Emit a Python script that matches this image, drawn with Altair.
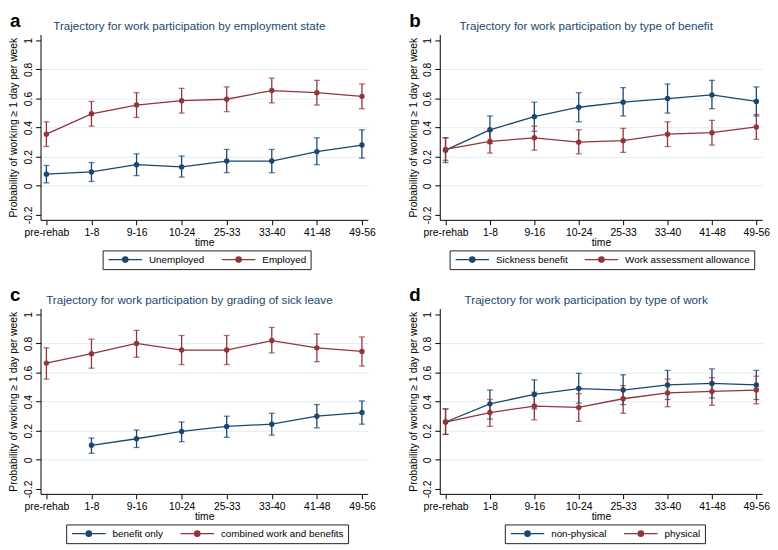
import altair as alt
import pandas as pd

FONT = "Liberation Sans"
BLUE = "#1a476f"
RED = "#90353b"

times = ["pre-rehab", "1-8", "9-16", "10-24", "25-33", "33-40", "41-48", "49-56"]
y_ticks = [-0.2, 0, 0.2, 0.4, 0.6, 0.8, 1]

# Panel a: employment state
a_title = "Trajectory for work participation by employment state"
a_groups = ["Unemployed", "Employed"]
a_unemp_est = [0.08, 0.095, 0.145, 0.13, 0.17, 0.17, 0.235, 0.28]
a_unemp_lo = [0.02, 0.03, 0.07, 0.06, 0.09, 0.09, 0.145, 0.19]
a_unemp_hi = [0.14, 0.16, 0.22, 0.205, 0.25, 0.25, 0.33, 0.385]
a_emp_est = [0.355, 0.495, 0.555, 0.585, 0.595, 0.655, 0.64, 0.615]
a_emp_lo = [0.27, 0.41, 0.47, 0.50, 0.51, 0.57, 0.555, 0.53]
a_emp_hi = [0.44, 0.58, 0.64, 0.67, 0.68, 0.74, 0.725, 0.70]

# Panel b: type of benefit
b_title = "Trajectory for work participation by type of benefit"
b_groups = ["Sickness benefit", "Work assessment allowance"]
b_sick_est = [0.245, 0.385, 0.475, 0.54, 0.575, 0.60, 0.625, 0.58]
b_sick_lo = [0.16, 0.29, 0.375, 0.44, 0.48, 0.50, 0.53, 0.48]
b_sick_hi = [0.33, 0.48, 0.575, 0.64, 0.675, 0.70, 0.725, 0.68]
b_waa_est = [0.25, 0.305, 0.33, 0.30, 0.31, 0.355, 0.365, 0.405]
b_waa_lo = [0.175, 0.225, 0.245, 0.22, 0.23, 0.27, 0.28, 0.32]
b_waa_hi = [0.33, 0.38, 0.41, 0.385, 0.395, 0.44, 0.45, 0.49]

# Panel c: grading of sick leave (benefit only has no pre-rehab value)
c_title = "Trajectory for work participation by grading of sick leave"
c_groups = ["benefit only", "combined work and benefits"]
c_ben_times = times[1:]
c_ben_est = [0.10, 0.145, 0.195, 0.23, 0.245, 0.30, 0.325]
c_ben_lo = [0.045, 0.085, 0.125, 0.155, 0.17, 0.22, 0.245]
c_ben_hi = [0.15, 0.205, 0.26, 0.30, 0.32, 0.38, 0.405]
c_comb_est = [0.665, 0.73, 0.80, 0.755, 0.755, 0.82, 0.77, 0.745]
c_comb_lo = [0.555, 0.63, 0.705, 0.655, 0.655, 0.735, 0.675, 0.645]
c_comb_hi = [0.77, 0.83, 0.89, 0.855, 0.855, 0.91, 0.865, 0.845]

# Panel d: type of work
d_title = "Trajectory for work participation by type of work"
d_groups = ["non-physical", "physical"]
d_nonphys_est = [0.26, 0.385, 0.45, 0.49, 0.48, 0.515, 0.525, 0.515]
d_nonphys_lo = [0.175, 0.28, 0.35, 0.39, 0.38, 0.415, 0.425, 0.415]
d_nonphys_hi = [0.35, 0.48, 0.55, 0.595, 0.585, 0.615, 0.625, 0.615]
d_phys_est = [0.26, 0.325, 0.37, 0.36, 0.42, 0.46, 0.47, 0.48]
d_phys_lo = [0.175, 0.23, 0.275, 0.265, 0.32, 0.365, 0.375, 0.385]
d_phys_hi = [0.35, 0.415, 0.465, 0.455, 0.51, 0.555, 0.565, 0.575]


def ring(cx, r):
    return f"M{cx + r},0A{r},{r} 0 1,1 {cx - r},0A{r},{r} 0 1,1 {cx + r},0"


# legend key: a short line with a dot in its middle (path units are 4px each)
LEGEND_SYMBOL = "M-0.75,0L7.75,0" + ring(3.5, 0.175) + ring(3.5, 0.425) + ring(3.5, 0.675)

H = 188


def panel(letter, title, groups, series, lx, width):
    rows = []
    for g, (t, est, lo, hi) in zip(groups, series):
        for ti, e, l, h in zip(t, est, lo, hi):
            rows.append({"time": ti, "group": g, "est": e, "lo": l, "hi": h})
    df = pd.DataFrame(rows)

    cscale = alt.Scale(domain=groups, range=[BLUE, RED])
    legend = alt.Legend(
        title=None, orient="none", legendX=lx, legendY=H + 31, direction="horizontal",
        strokeColor="#222222", fillColor="white", padding=4, columnPadding=14,
        symbolType=LEGEND_SYMBOL, symbolSize=64, symbolStrokeWidth=1.3,
        labelFont=FONT, labelFontSize=10, labelColor="black", labelOffset=33,
    )
    color_leg = alt.Color("group:N", scale=cscale, legend=legend)
    color_no = alt.Color("group:N", scale=cscale, legend=None)

    xaxis = alt.Axis(
        title="time", labelAngle=0, tickSize=5, labelPadding=3, titlePadding=0,
        grid=False, labelFont=FONT, labelFontSize=10.5, labelColor="black",
        titleFont=FONT, titleFontSize=10.5, titleFontWeight="normal", titleColor="black",
        domainColor="black", tickColor="black", labelOverlap=False,
    )
    yaxis = alt.Axis(
        title="Probability of working \u2265 1 day per week",
        values=y_ticks,
        labelExpr="toString(round(datum.value*10)/10)",
        labelAngle=270, labelAlign="center", labelBaseline="bottom",
        labelOverlap=False,
        tickSize=5, labelPadding=2, titlePadding=5,
        labelFont=FONT, labelFontSize=10.5, labelColor="black",
        titleFont=FONT, titleFontSize=10.5, titleFontWeight="normal", titleColor="black",
        domainColor="black", tickColor="black",
        grid=True, gridColor="#E4EEF0", gridWidth=1,
        gridOpacity={"condition": {"test": "datum.value > -0.1 && datum.value < 0.9", "value": 1}, "value": 0},
    )
    xenc = alt.X("time:O", scale=alt.Scale(type="point", domain=times, padding=0.13), axis=xaxis)
    yscale = alt.Scale(domain=[-0.234, 1.04], nice=False, zero=False)

    base = alt.Chart(df).encode(x=xenc)
    line = base.mark_line(strokeWidth=1.3).encode(
        y=alt.Y("est:Q", scale=yscale, axis=yaxis), color=color_leg)
    rule = base.mark_rule(strokeWidth=1.3).encode(
        y=alt.Y("lo:Q", axis=yaxis), y2="hi:Q", color=color_no)
    cap_lo = base.mark_tick(size=6, thickness=1.3).encode(
        y=alt.Y("lo:Q", axis=yaxis), color=color_no)
    cap_hi = base.mark_tick(size=6, thickness=1.3).encode(
        y=alt.Y("hi:Q", axis=yaxis), color=color_no)
    pts = base.mark_point(filled=True, size=30, opacity=1).encode(
        y=alt.Y("est:Q", axis=yaxis), color=color_no)

    lab = alt.Chart(pd.DataFrame({"l": [letter]})).mark_text(
        font=FONT, fontSize=19, fontWeight="bold", color="black",
        align="left", baseline="alphabetic",
    ).encode(text="l:N", x=alt.value(-31), y=alt.value(-8))

    ttl = alt.Chart(pd.DataFrame({"t": [title]})).mark_text(
        font=FONT, fontSize=11.8, color=BLUE, align="center", baseline="alphabetic",
    ).encode(text="t:N", x=alt.value(width / 2 - 15), y=alt.value(-5))

    return alt.layer(line, rule, cap_lo, cap_hi, pts, lab, ttl).properties(
        width=width, height=H,
    )


pa = panel("a", a_title, a_groups,
           [(times, a_unemp_est, a_unemp_lo, a_unemp_hi),
            (times, a_emp_est, a_emp_lo, a_emp_hi)], 63, 332)
pb = panel("b", b_title, b_groups,
           [(times, b_sick_est, b_sick_lo, b_sick_hi),
            (times, b_waa_est, b_waa_lo, b_waa_hi)], 10, 327)
pc = panel("c", c_title, c_groups,
           [(c_ben_times, c_ben_est, c_ben_lo, c_ben_hi),
            (times, c_comb_est, c_comb_lo, c_comb_hi)], 26, 332)
pd_ = panel("d", d_title, d_groups,
            [(times, d_nonphys_est, d_nonphys_lo, d_nonphys_hi),
             (times, d_phys_est, d_phys_lo, d_phys_hi)], 66, 327)

chart = alt.concat(pa, pb, pc, pd_, columns=2, spacing={"row": 16, "column": 32}).resolve_scale(
    color="independent"
).resolve_legend(color="independent").properties(
    padding=0, background="white"
).configure_view(stroke=None).configure_axis(labelOverlap=False)

chart.save("out.html", embed_options={"renderer": "svg", "actions": False})
